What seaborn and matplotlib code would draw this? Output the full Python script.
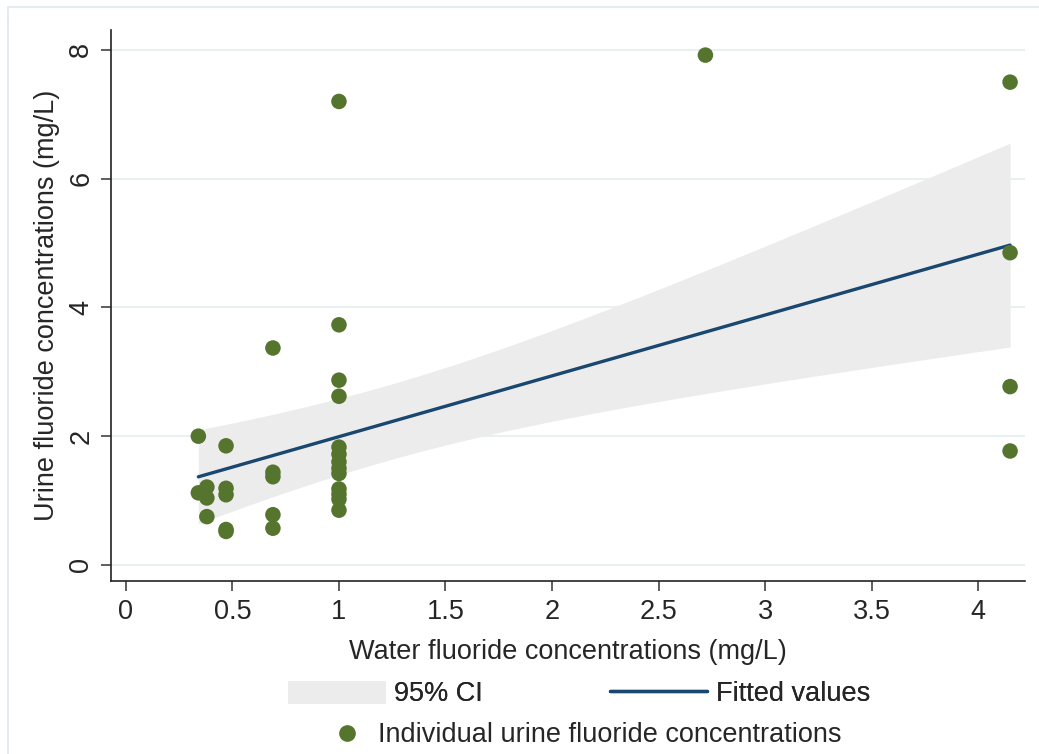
import numpy as np
import pandas as pd
import seaborn as sns
import matplotlib
matplotlib.use("Agg")
import matplotlib.pyplot as plt
from matplotlib.patches import Patch, Rectangle
from matplotlib.lines import Line2D
from matplotlib.ticker import FormatStrFormatter

# ---- data ----
water = [0.34, 0.34,
         0.38, 0.38, 0.38,
         0.47, 0.47, 0.47, 0.47, 0.47,
         0.69, 0.69, 0.69, 0.69, 0.69,
         1.0, 1.0, 1.0, 1.0, 1.0, 1.0, 1.0, 1.0, 1.0, 1.0, 1.0, 1.0, 1.0,
         2.72,
         4.15, 4.15, 4.15, 4.15]
urine = [2.00, 1.12,
         1.21, 1.04, 0.75,
         1.85, 1.19, 1.09, 0.55, 0.52,
         3.37, 1.44, 1.37, 0.78, 0.57,
         7.20, 3.73, 2.87, 2.62, 1.83, 1.72, 1.60, 1.50, 1.42, 1.18, 1.10, 1.02, 0.85,
         7.92,
         7.50, 4.85, 2.77, 1.77]
x_ticks = [0, 0.5, 1, 1.5, 2, 2.5, 3, 3.5, 4]
y_ticks = [0, 2, 4, 6, 8]
x_label = "Water fluoride concentrations (mg/L)"
y_label = "Urine fluoride concentrations (mg/L)"
legend_labels = ["95% CI", "Fitted values", "Individual urine fluoride concentrations"]

POINT_C = "#55752f"
LINE_C = "#1a476f"
BAND_C = "#ececec"
GRID_C = "#e8f0f2"
FS = 19.5

sns.set_style("white")
plt.rcParams["font.family"] = ["Liberation Sans", "DejaVu Sans"]

df = pd.DataFrame({"water": water, "urine": urine})

# OLS fit with analytic 95% CI of the mean prediction (as Stata's lfitci)
xa = np.asarray(water)
ya = np.asarray(urine)
n = len(xa)
slope, intercept = np.polyfit(xa, ya, 1)
resid = ya - (intercept + slope * xa)
s2 = np.sum(resid ** 2) / (n - 2)
sxx = np.sum((xa - xa.mean()) ** 2)
tcrit = 2.0395  # t(0.975, df=31)
grid = np.linspace(xa.min(), xa.max(), 100)
fit = intercept + slope * grid
se = np.sqrt(s2 * (1.0 / n + (grid - xa.mean()) ** 2 / sxx))
fit_df = pd.DataFrame({"water": grid, "fit": fit,
                       "lo": fit - tcrit * se, "hi": fit + tcrit * se})

fig = plt.figure(figsize=(10.39, 7.54), dpi=100)
ax = fig.add_axes([111 / 1039, 1 - 581 / 754, (1025 - 111) / 1039, (581 - 30) / 754])

ax.fill_between(fit_df["water"], fit_df["lo"], fit_df["hi"], color=BAND_C,
                lw=0, zorder=2)
sns.lineplot(data=fit_df, x="water", y="fit", color=LINE_C, lw=2.4, ax=ax,
             zorder=3, legend=False)
sns.scatterplot(data=df, x="water", y="urine", color=POINT_C, s=125,
                edgecolor="none", linewidth=0, ax=ax, zorder=4, legend=False)

ax.set_xlim(-0.07, 4.22)
ax.set_ylim(-0.25, 8.31)
ax.set_xticks(x_ticks)
ax.set_yticks(y_ticks)
ax.xaxis.set_major_formatter(FormatStrFormatter("%g"))
ax.yaxis.grid(True, color=GRID_C, lw=1.5)
ax.xaxis.grid(False)
ax.set_axisbelow(True)
for s in ["top", "right"]:
    ax.spines[s].set_visible(False)
for s in ["left", "bottom"]:
    ax.spines[s].set_color("#222222")
    ax.spines[s].set_linewidth(1.2)

ax.tick_params(axis="both", direction="out", length=7, width=1.1, color="#333333",
               labelsize=FS, left=True, bottom=True)
ax.tick_params(axis="x", pad=6)
ax.tick_params(axis="y", pad=5)
for lab in ax.get_yticklabels():
    lab.set_rotation(90)
    lab.set_va("center")

ax.set_xlabel(x_label, fontsize=FS, labelpad=10)
ax.set_ylabel(y_label, fontsize=FS, labelpad=6)

# legends
h_band = Patch(facecolor=BAND_C, edgecolor="none")
h_line = Line2D([], [], color=LINE_C, lw=2.4)
h_pt = Line2D([], [], marker="o", color=POINT_C, linestyle="none", markersize=11)

leg1 = fig.legend([h_band, h_line], legend_labels[:2], ncol=2, loc="center",
                  bbox_to_anchor=(579 / 1039, 1 - 694 / 754), frameon=False,
                  fontsize=FS, handlelength=3.6, handleheight=0.95,
                  handletextpad=0.3, columnspacing=4.7, borderpad=0)
leg2 = fig.legend([h_pt], legend_labels[2:], loc="center",
                  bbox_to_anchor=(587 / 1039, 1 - 735 / 754), frameon=False,
                  fontsize=FS, handlelength=1.1, handletextpad=0.6, borderpad=0)
fig.add_artist(leg1)

# light outer frame
fig.add_artist(Rectangle((8 / 1039, -0.05), 1.2, 1 - 7 / 754 + 0.05,
                         transform=fig.transFigure, fill=False,
                         edgecolor="#e4ecef", lw=1.5))

fig.savefig("out.png", dpi=100, facecolor="white")
